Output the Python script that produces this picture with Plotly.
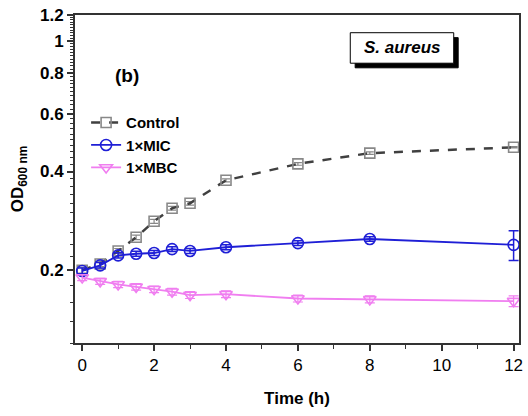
import plotly.graph_objects as go
import numpy as np

time_h = [0, 0.5, 1, 1.5, 2, 2.5, 3, 4, 6, 8, 12]
control = [0.200, 0.209, 0.229, 0.252, 0.282, 0.309, 0.320, 0.376, 0.422, 0.455, 0.474]
control_err = [0.004, 0.004, 0.004, 0.004, 0.004, 0.004, 0.004, 0.004, 0.004, 0.004, 0.002]
mic = [0.199, 0.207, 0.222, 0.2245, 0.2257, 0.232, 0.229, 0.235, 0.242, 0.249, 0.239]
mic_err = [0.004, 0.004, 0.004, 0.004, 0.004, 0.004, 0.004, 0.004, 0.004, 0.004, 0.025]
mbc = [0.190, 0.185, 0.181, 0.178, 0.175, 0.172, 0.168, 0.169, 0.164, 0.163, 0.161]
mbc_err = [0.004, 0.004, 0.004, 0.004, 0.004, 0.004, 0.004, 0.004, 0.004, 0.004, 0.006]

y_ticks = [0.2, 0.4, 0.6, 0.8, 1, 1.2]
y_ticktext = ["0.2", "0.4", "0.6", "0.8", "1", "1.2"]
y_minor = [round(0.12 + 0.02 * i, 2) for i in range(55)]

FONT = "Liberation Sans, Arial, sans-serif"

fig = go.Figure()
fig.add_trace(go.Scatter(
    x=time_h, y=control, name="<b>Control</b>", mode="lines+markers",
    line=dict(color="#404040", width=2.5, dash="dash"),
    marker=dict(symbol="square-open", size=10, color="#888888", line=dict(width=1.6)),
    error_y=dict(type="data", array=control_err, color="#888888", thickness=1.2, width=4),
))
fig.add_trace(go.Scatter(
    x=time_h, y=mic, name="<b>1×MIC</b>", mode="lines+markers",
    line=dict(color="#1f1fd6", width=1.8),
    marker=dict(symbol="circle-open", size=11, color="#1f1fd6", line=dict(width=1.6)),
    error_y=dict(type="data", array=mic_err, color="#1f1fd6", thickness=1.5, width=5),
))
fig.add_trace(go.Scatter(
    x=time_h, y=mbc, name="<b>1×MBC</b>", mode="lines+markers",
    line=dict(color="#f07ef0", width=1.8),
    marker=dict(symbol="triangle-down-open", size=11, color="#f07ef0", line=dict(width=1.6)),
    error_y=dict(type="data", array=mbc_err, color="#f07ef0", thickness=1.2, width=5),
))

fig.update_layout(
    width=528, height=416,
    margin=dict(l=75, r=5, t=15, b=73),
    paper_bgcolor="white", plot_bgcolor="white",
    font=dict(family=FONT, size=15, color="black"),
    showlegend=True,
    legend=dict(x=0.025, y=0.722, xanchor="left", yanchor="top",
                bgcolor="rgba(0,0,0,0)", font=dict(size=15, family=FONT),
                tracegroupgap=0, itemwidth=30),
)
fig.update_xaxes(
    range=[-0.2, 12.15], tickmode="array", tickvals=[0, 2, 4, 6, 8, 10, 12],
    ticks="outside", ticklen=6, tickwidth=1.5, tickcolor="#333333",
    showline=True, linecolor="#333333", linewidth=1.8, mirror=True,
    showgrid=False, zeroline=False,
    tickfont=dict(size=17, family=FONT),
    minor=dict(tickmode="array", tickvals=[1, 3, 5, 7, 9, 11], ticks="outside",
               ticklen=4, tickwidth=1.2, tickcolor="#333333", showgrid=False),
    title=dict(text="<b>Time (h)</b>", font=dict(size=17, family=FONT), standoff=18),
)
fig.update_yaxes(
    type="log", range=[np.log10(0.12), np.log10(1.2)],
    tickmode="array", tickvals=y_ticks, ticktext=[f"<b>{t}</b>" for t in y_ticktext],
    ticks="outside", ticklen=6, tickwidth=1.5, tickcolor="#333333",
    showline=True, linecolor="#333333", linewidth=1.8, mirror=True,
    showgrid=False, zeroline=False,
    tickfont=dict(size=17, family=FONT),
    minor=dict(tickmode="array", tickvals=y_minor, ticks="outside",
               ticklen=3, tickwidth=1, tickcolor="#333333", showgrid=False),
    title=dict(text="<b>OD<sub>600 nm</sub></b>", font=dict(size=17, family=FONT), standoff=12),
)
fig.update_xaxes(tickprefix="<b>", ticksuffix="</b>")

# panel label
fig.add_annotation(xref="paper", yref="paper", x=0.118, y=0.817, text="<b>(b)</b>",
                   xanchor="center", yanchor="middle",
                   showarrow=False, font=dict(size=19, family=FONT))
# S. aureus box with shadow
fig.add_shape(type="rect", xref="paper", yref="paper", x0=0.631, x1=0.863, y0=0.839, y1=0.931,
              fillcolor="black", line=dict(color="black", width=1))
fig.add_shape(type="rect", xref="paper", yref="paper", x0=0.620, x1=0.853, y0=0.853, y1=0.946,
              fillcolor="white", line=dict(color="black", width=1))
fig.add_annotation(xref="paper", yref="paper", x=0.7365, y=0.90, text="<b><i>S. aureus</i></b>",
                   xanchor="center", yanchor="middle",
                   showarrow=False, font=dict(size=17, family=FONT))

fig.write_html("out.html")
